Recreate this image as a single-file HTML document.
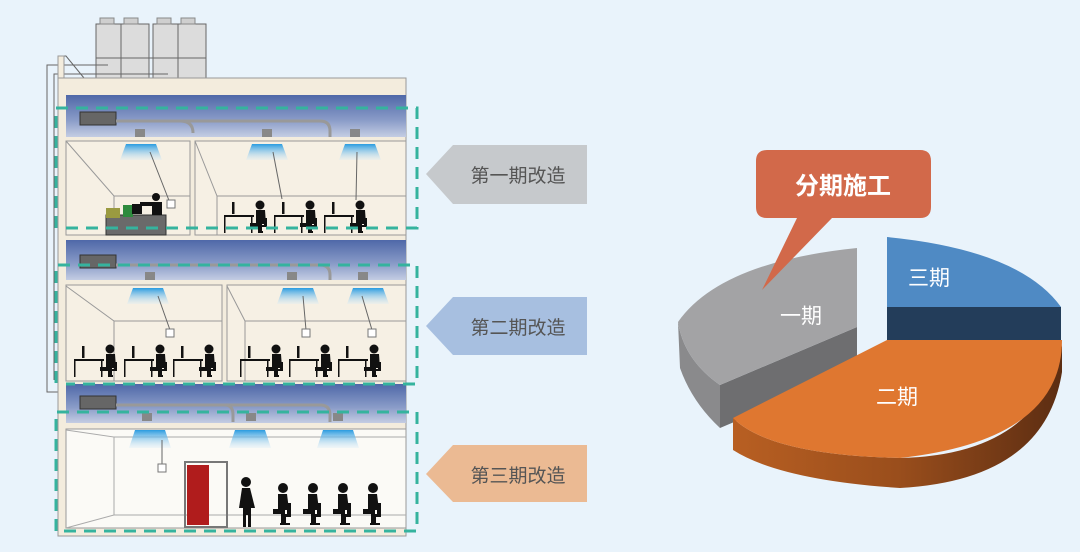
<!DOCTYPE html>
<html><head><meta charset="utf-8"><style>
html,body{margin:0;padding:0;background:#e9f3fb;}
svg{display:block;}
text{font-family:"Liberation Sans","Noto Sans CJK SC",sans-serif;}
</style></head><body>
<svg width="1080" height="552" viewBox="0 0 1080 552" xmlns="http://www.w3.org/2000/svg">
<defs>
<linearGradient id="plen" x1="0" y1="0" x2="0" y2="1">
<stop offset="0" stop-color="#4f68a8"/><stop offset="0.6" stop-color="#8a9cc8"/><stop offset="1" stop-color="#c4cde3"/></linearGradient>
<linearGradient id="ac" x1="0" y1="0" x2="0" y2="1">
<stop offset="0" stop-color="#2a9be0"/><stop offset="1" stop-color="#d8ecf8" stop-opacity="0.3"/></linearGradient>
<linearGradient id="orSide" x1="0" y1="0" x2="1" y2="0">
<stop offset="0" stop-color="#b85f22"/><stop offset="0.5" stop-color="#9a4e1c"/><stop offset="1" stop-color="#5c2d12"/></linearGradient>
<g id="w">
<rect x="0" y="-18" width="30" height="2" fill="#111"/>
<rect x="0" y="-18" width="1.5" height="18" fill="#111"/>
<rect x="27" y="-18" width="1.5" height="18" fill="#111"/>
<rect x="8" y="-31" width="2.5" height="12" fill="#111"/>
<circle cx="36" cy="-28" r="4.5" fill="#111"/>
<path d="M32,-23 h9 l1,14 h-4 v9 h-4 v-6 h-8 v-4 h6 z" fill="#111"/>
<path d="M40,-15 h3 v9 h-6 v2 h-2 v-4 h5 z M37,-2 h2 v2 h-2z" fill="#111"/>
</g>
<g id="s">
<circle cx="10" cy="-37" r="5" fill="#111"/>
<path d="M5,-31 h9 l2,16 h-4 v15 h-4 v-11 h-8 v-5 h5 z" fill="#111"/>
<path d="M14,-22 h4 v14 h-10 v-3 h6z M11,-8 h2 v6 h4 v2 h-10 v-2 h4z" fill="#111"/>
</g>
</defs>

<g fill="#dcdcdc" stroke="#666" stroke-width="1">
<rect x="96" y="24" width="25" height="54"/><rect x="121" y="24" width="28" height="54"/>
<rect x="153" y="24" width="25" height="54"/><rect x="178" y="24" width="28" height="54"/>
<line x1="96" y1="58" x2="206" y2="58"/>
</g>
<g fill="#cfcfcf" stroke="#888"><rect x="100" y="18" width="14" height="6"/><rect x="124" y="18" width="14" height="6"/><rect x="157" y="18" width="14" height="6"/><rect x="181" y="18" width="14" height="6"/></g>
<g stroke="#666" fill="none" stroke-width="1">
<path d="M108,65 H47 V392 H58"/><path d="M168,74 H54 V380"/>
<path d="M58,56 H66 L84,78"/>
</g>
<rect x="58" y="78" width="348" height="458" fill="#f3ecdd" stroke="#999"/>
<rect x="58" y="56" width="6" height="22" fill="#f3ecdd" stroke="#999"/>
<rect x="66" y="95" width="340" height="42" fill="url(#plen)"/>
<rect x="80" y="112" width="36" height="13" fill="#666" stroke="#333"/>
<path d="M116,121 H320 Q330,121 330,131 V137" stroke="#999" stroke-width="3" fill="none"/>
<path d="M180,121 Q193,121 193,133" stroke="#999" stroke-width="3" fill="none"/>
<g fill="#888"><rect x="135" y="129" width="10" height="8"/><rect x="262" y="129" width="10" height="8"/><rect x="350" y="129" width="10" height="8"/></g>
<g fill="#f6f0e4" stroke="#999"><rect x="66" y="141" width="124" height="94"/><rect x="195" y="141" width="211" height="94"/></g>
<g stroke="#999" fill="none"><path d="M66,141 L114,196 H190 M114,196 V235"/><path d="M195,141 L217,196 H406 M217,196 V235"/></g>
<g fill="url(#ac)"><path d="M126,144 h30 l6,16 h-42z"/><path d="M252,144 h30 l6,16 h-42z"/><path d="M345,144 h30 l6,16 h-42z"/></g>
<g stroke="#666" fill="none"><path d="M150,152 L170,203"/><path d="M273,152 L282,199"/><path d="M357,152 L356,200"/></g>
<rect x="167" y="200" width="8" height="8" fill="#fff" stroke="#777"/>
<rect x="106" y="215" width="60" height="20" fill="#6a6a6a" stroke="#333"/>
<rect x="106" y="208" width="14" height="10" fill="#9a9a40"/>
<rect x="123" y="205" width="10" height="12" fill="#2e8b3e"/>
<rect x="132" y="204" width="10" height="10" fill="#111"/>
<circle cx="156" cy="197" r="4" fill="#111"/><path d="M140,202 h22 v13 h-10 v-9 h-12z" fill="#111"/>
<use href="#w" x="224" y="233"/><use href="#w" x="274" y="233"/><use href="#w" x="324" y="233"/>
<rect x="66" y="240" width="340" height="40" fill="url(#plen)"/>
<rect x="80" y="255" width="36" height="13" fill="#666" stroke="#333"/>
<path d="M116,265 H320 Q330,265 330,275 V280" stroke="#999" stroke-width="3" fill="none"/>
<g fill="#888"><rect x="145" y="272" width="10" height="8"/><rect x="287" y="272" width="10" height="8"/><rect x="358" y="272" width="10" height="8"/></g>
<g fill="#f6f0e4" stroke="#999"><rect x="66" y="285" width="156" height="96"/><rect x="227" y="285" width="179" height="96"/></g>
<g stroke="#999" fill="none"><path d="M66,286 L114,321 H222 M114,321 V381"/><path d="M227,286 L245,321 H406 M245,321 V381"/></g>
<g fill="url(#ac)"><path d="M133,288 h30 l6,16 h-42z"/><path d="M283,288 h30 l6,16 h-42z"/><path d="M353,288 h30 l6,16 h-42z"/></g>
<g stroke="#666" fill="none"><path d="M158,296 L170,330"/><path d="M303,296 L306,330"/><path d="M362,296 L372,330"/></g>
<g fill="#fff" stroke="#777"><rect x="166" y="329" width="8" height="8"/><rect x="302" y="329" width="8" height="8"/><rect x="368" y="329" width="8" height="8"/></g>
<use href="#w" x="74" y="377"/><use href="#w" x="124" y="377"/><use href="#w" x="173" y="377"/>
<use href="#w" x="240" y="377"/><use href="#w" x="289" y="377"/><use href="#w" x="338" y="377"/>
<rect x="66" y="384" width="340" height="39" fill="url(#plen)"/>
<rect x="80" y="396" width="36" height="13" fill="#666" stroke="#333"/>
<path d="M116,405 H320 Q330,405 330,415 V422" stroke="#999" stroke-width="3" fill="none"/>
<path d="M225,405 Q233,405 233,415 V422" stroke="#999" stroke-width="3" fill="none"/>
<g fill="#888"><rect x="142" y="413" width="10" height="8"/><rect x="246" y="413" width="10" height="8"/><rect x="333" y="413" width="10" height="8"/></g>
<rect x="66" y="429" width="340" height="99" fill="#fbfaf6" stroke="#999"/>
<g stroke="#aaa" fill="none"><path d="M66,430 L114,437 V515 L66,528"/><path d="M114,515 H406"/><path d="M114,437 H406"/></g>
<g fill="url(#ac)"><path d="M135,430 h30 l6,18 h-42z"/><path d="M235,430 h30 l6,18 h-42z"/><path d="M323,430 h30 l6,18 h-42z"/></g>
<path d="M162,440 V465" stroke="#666"/><rect x="158" y="464" width="8" height="8" fill="#fff" stroke="#777"/>
<rect x="185" y="462" width="42" height="65" fill="none" stroke="#777" stroke-width="2"/>
<rect x="187" y="465" width="22" height="60" fill="#b01c1c"/>
<circle cx="246" cy="482" r="5" fill="#111"/>
<path d="M242,488 h8 l5,20 h-4 v19 h-3 v-12 h-2 v12 h-3 v-19 h-4z" fill="#111"/>
<use href="#s" x="273" y="525"/><use href="#s" x="303" y="525"/><use href="#s" x="333" y="525"/><use href="#s" x="363" y="525"/>
<g stroke="#35b39e" stroke-width="3" fill="none" stroke-dasharray="12,8">
<path d="M56,228 V108 H417 V228 H66"/>
<path d="M56,383 V265 H417 V384 H66"/>
<path d="M56,531 V412 H417 V531 H56"/>
</g>
<path d="M426,174 L453,145 H587 V204 H453 Z" fill="#c6c9cc"/>
<text x="518" y="182" font-size="19" fill="#555" text-anchor="middle">第一期改造</text>
<path d="M426,326 L453,297 H587 V355 H453 Z" fill="#a7bfe0"/>
<text x="518" y="334" font-size="19" fill="#555" text-anchor="middle">第二期改造</text>
<path d="M426,474 L453,445 H587 V502 H453 Z" fill="#ebba93"/>
<text x="518" y="482" font-size="19" fill="#555" text-anchor="middle">第三期改造</text>
<!-- pie gray -->
<path d="M678,322 L680,368 Q692,402 720,428 L720,385 Q684,360 678,322Z" fill="#8a8a8c"/>
<path d="M857,327 L720,385 L720,428 L857,370Z" fill="#6e6e70"/>
<path d="M857,327 V248 Q720,262 678,322 Q684,360 720,385 Z" fill="#a3a3a5"/>
<!-- blue -->
<path d="M887,307 H1061 V342 H887Z" fill="#233d5a"/>
<path d="M887,237 Q1020,250 1061,307 H887Z" fill="#4f8ac4"/>
<!-- orange -->
<path d="M733,418 V450 Q780,480 900,488 Q1045,480 1062,372 V345 Q1040,455 900,458 Q770,455 733,418Z" fill="url(#orSide)"/>
<path d="M887,340 H1062 Q1062,440 900,458 Q770,455 733,418 Z" fill="#df7730"/>
<text x="780" y="323" font-size="21" fill="#fff">一期</text>
<text x="908" y="285" font-size="21" fill="#fff">三期</text>
<text x="876" y="404" font-size="21" fill="#fff">二期</text>
<path d="M767,150 H920 Q931,150 931,161 V207 Q931,218 920,218 H832 L762,290 L797,218 H767 Q756,218 756,207 V161 Q756,150 767,150Z" fill="#d2694a"/>
<text x="843" y="194" font-size="24" font-weight="bold" fill="#fff" text-anchor="middle">分期施工</text>
</svg>
</body></html>
